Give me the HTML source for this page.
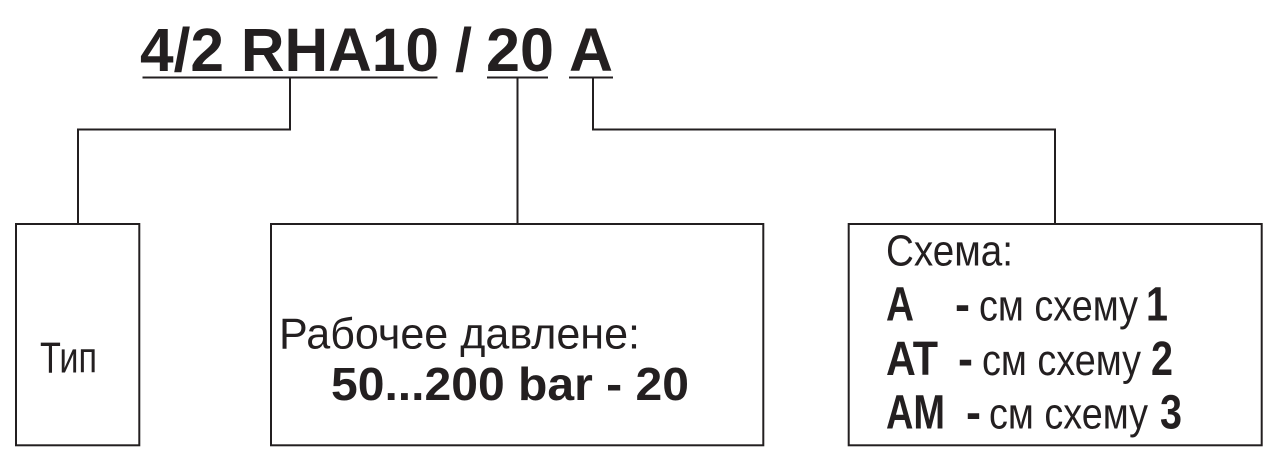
<!DOCTYPE html>
<html>
<head>
<meta charset="utf-8">
<style>
  html, body { margin: 0; padding: 0; background: #ffffff; }
  body { width: 1275px; height: 473px; overflow: hidden; }
  svg { display: block; }
  .b { font-family: "Liberation Sans", "Noto Sans CJK SC", sans-serif; font-weight: bold; fill: #231f20; }
  .r { font-family: "Liberation Sans", "Noto Sans CJK SC", sans-serif; font-weight: normal; fill: #231f20; }
</style>
</head>
<body>
<svg width="1275" height="473" viewBox="0 0 1275 473" xmlns="http://www.w3.org/2000/svg">
  <rect x="0" y="0" width="1275" height="473" fill="#ffffff"/>

  <!-- Title -->
  <text class="b" x="140" y="71" font-size="61" textLength="299" lengthAdjust="spacingAndGlyphs">4/2 RHA10</text>
  <text class="b" x="455" y="71" font-size="61" textLength="17" lengthAdjust="spacingAndGlyphs">/</text>
  <text class="b" x="486" y="71" font-size="61" textLength="68" lengthAdjust="spacingAndGlyphs">20</text>
  <text class="b" x="569" y="71" font-size="61" textLength="44" lengthAdjust="spacingAndGlyphs">A</text>

  <!-- Underlines -->
  <g stroke="#231f20" stroke-width="2" fill="none">
    <line x1="142.5" y1="77.5" x2="437.5" y2="77.5"/>
    <line x1="487" y1="77.5" x2="548" y2="77.5"/>
    <line x1="569" y1="77.5" x2="613" y2="77.5"/>

    <!-- Connectors -->
    <polyline points="290,77.5 290,129.5 78,129.5 78,224"/>
    <line x1="517.5" y1="77.5" x2="517.5" y2="224"/>
    <polyline points="593,77.5 593,129.5 1055,129.5 1055,224"/>

    <!-- Boxes -->
    <rect x="16" y="224" width="123.3" height="221.3"/>
    <rect x="271" y="224" width="492.3" height="221.3"/>
    <rect x="848.7" y="224" width="413" height="221.3"/>
  </g>

  <!-- Box 1 -->
  <text class="r" x="40" y="372.7" font-size="44" textLength="57" lengthAdjust="spacingAndGlyphs">Тип</text>

  <!-- Box 2 -->
  <text class="r" x="279" y="348.3" font-size="44" textLength="361" lengthAdjust="spacingAndGlyphs">Рабочее давлене:</text>
  <text class="b" x="331" y="400" font-size="46" textLength="358" lengthAdjust="spacingAndGlyphs">50...200 bar - 20</text>

  <!-- Box 3 -->
  <text class="r" x="886" y="265.7" font-size="44" textLength="127" lengthAdjust="spacingAndGlyphs">Схема:</text>

  <text class="b" x="886" y="320.7" font-size="48" textLength="28" lengthAdjust="spacingAndGlyphs">A</text>
  <text class="b" x="955" y="320.7" font-size="48" textLength="15" lengthAdjust="spacingAndGlyphs">-</text>
  <text class="r" x="979" y="320.7" font-size="44" textLength="159" lengthAdjust="spacingAndGlyphs">см схему</text>
  <text class="b" x="1146" y="320.7" font-size="48" textLength="22" lengthAdjust="spacingAndGlyphs">1</text>

  <text class="b" x="886" y="375" font-size="48" textLength="52" lengthAdjust="spacingAndGlyphs">AT</text>
  <text class="b" x="958" y="375" font-size="48" textLength="15" lengthAdjust="spacingAndGlyphs">-</text>
  <text class="r" x="982" y="375" font-size="44" textLength="159" lengthAdjust="spacingAndGlyphs">см схему</text>
  <text class="b" x="1151" y="375" font-size="48" textLength="22" lengthAdjust="spacingAndGlyphs">2</text>

  <text class="b" x="886" y="428.3" font-size="48" textLength="59" lengthAdjust="spacingAndGlyphs">AM</text>
  <text class="b" x="966" y="428.3" font-size="48" textLength="15" lengthAdjust="spacingAndGlyphs">-</text>
  <text class="r" x="989" y="428.3" font-size="44" textLength="159" lengthAdjust="spacingAndGlyphs">см схему</text>
  <text class="b" x="1160" y="428.3" font-size="48" textLength="22" lengthAdjust="spacingAndGlyphs">3</text>
</svg>
</body>
</html>
